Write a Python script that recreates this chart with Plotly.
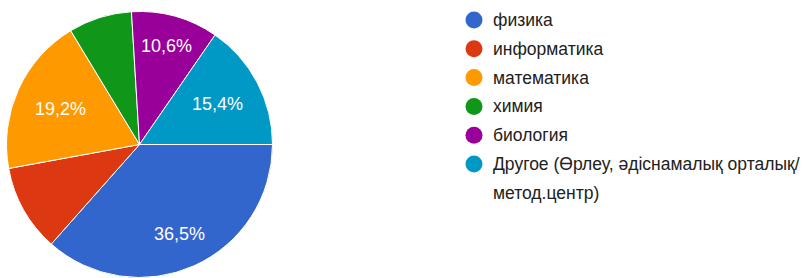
import math
import plotly.graph_objects as go

categories = ["физика", "информатика", "математика", "химия", "биология",
              "Другое (Өрлеу, әдіснамалық орталық/ метод.центр)"]
counts = [38, 11, 20, 8, 11, 16]
colors = ["#3366cc", "#dc3912", "#ff9900", "#109618", "#990099", "#0099c6"]
show_label = [True, False, True, False, True, True]
legend_lines = [["физика"], ["информатика"], ["математика"], ["химия"], ["биология"],
                ["Другое (Өрлеу, әдіснамалық орталық/", "метод.центр)"]]

W, H = 803, 278
cx, cy, r = 139.5, 144.5, 133
domain = dict(x=[(cx - r) / W, (cx + r) / W], y=[(H - cy - r) / H, (H - cy + r) / H])

fig = go.Figure(go.Pie(
    labels=categories, values=counts, sort=False, direction="clockwise", rotation=90,
    marker=dict(colors=colors, line=dict(color="white", width=1)),
    textinfo="none", hoverinfo="label+percent", showlegend=False, domain=domain,
))

shapes = []
annotations = []

# percentage labels along each slice's bisector (angles derived from the data)
total = sum(counts)
start = 0.0
for i, v in enumerate(counts):
    sweep = 360.0 * v / total
    mid = math.radians(start + sweep / 2)  # clockwise from 3 o'clock, screen coords
    start += sweep
    if not show_label[i]:
        continue
    rad = 108 - 23 * abs(math.cos(mid))
    px = cx + rad * math.cos(mid)
    py = cy + rad * math.sin(mid)
    pct = 100.0 * v / total
    annotations.append(dict(text=f"{pct:.1f}%".replace(".", ","), xref="paper", yref="paper",
                            x=px / W, y=(H - py) / H, xanchor="center", yanchor="middle",
                            showarrow=False,
                            font=dict(family="Arial, Liberation Sans, sans-serif", size=18, color="white")))

y0, dy = 20, 28.8
row = 0
for i, lines in enumerate(legend_lines):
    yc = y0 + row * dy
    shapes.append(dict(type="circle", xref="paper", yref="paper",
                       x0=(474 - 8.5) / W, x1=(474 + 8.5) / W,
                       y0=(H - yc - 8.5) / H, y1=(H - yc + 8.5) / H,
                       fillcolor=colors[i], line=dict(width=0)))
    for j, line in enumerate(lines):
        yl = yc + j * dy
        annotations.append(dict(text=line, xref="paper", yref="paper",
                                x=491 / W, y=(H - yl) / H, xanchor="left", yanchor="middle",
                                showarrow=False,
                                font=dict(family="Arial, Liberation Sans, sans-serif", size=17.5, color="#212121")))
    row += len(lines)

fig.update_layout(
    width=W, height=H,
    margin=dict(l=0, r=0, t=0, b=0),
    paper_bgcolor="white",
    plot_bgcolor="white",
    separators=", ",
    shapes=shapes,
    annotations=annotations,
)

fig.write_html("out.html", config={"displayModeBar": False},
               post_script="document.body.style.margin='0';")
